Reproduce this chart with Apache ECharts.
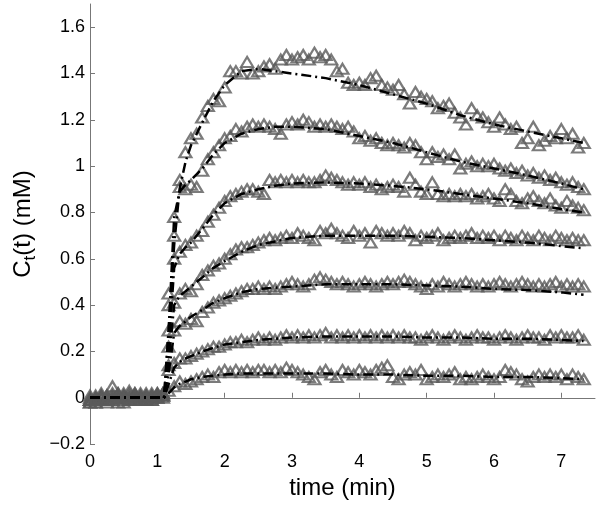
<!DOCTYPE html>
<html><head><meta charset="utf-8">
<script src="https://cdn.jsdelivr.net/npm/echarts@6/dist/echarts.min.js"></script>
<style>html,body{margin:0;padding:0;background:#fff}#c{width:600px;height:505px}</style>
</head><body><div id="c"></div>
<script>
// sampling interval of the measured curves (minutes)
const sampleStep = 1 / 12;

// measured concentrations, bottom curve (conc1) to top curve (conc7)
const conc1 = [-0.02,-0.01,0.00,-0.01,0.05,0.00,0.01,-0.01,0.02,0.00,0.01,-0.01,0.02,0.01,
  0.03,0.05,0.07,0.06,0.07,0.08,0.09,0.10,0.09,0.11,0.12,
  0.11,0.12,0.11,0.12,0.11,0.12,0.12,0.11,0.12,0.11,0.13,0.12,
  0.11,0.10,0.09,0.08,0.11,0.12,0.10,0.09,0.12,0.11,0.10,0.12,
  0.11,0.10,0.12,0.13,0.14,0.09,0.08,0.10,0.11,0.10,0.12,0.08,
  0.09,0.10,0.09,0.10,0.11,0.08,0.09,0.08,0.09,0.10,0.09,0.08,
  0.09,0.12,0.11,0.10,0.08,0.07,0.09,0.10,0.09,0.10,0.09,0.10,
  0.08,0.10,0.09,0.08];
const conc2 = [-0.01,-0.02,0.01,0.00,-0.01,0.02,0.00,0.03,-0.01,0.01,0.02,0.00,0.01,0.02,
  0.12,0.15,0.17,0.17,0.18,0.19,0.20,0.21,0.22,0.22,0.23,
  0.24,0.24,0.25,0.24,0.25,0.26,0.25,0.26,0.25,0.26,0.27,0.26,
  0.27,0.26,0.27,0.26,0.27,0.28,0.26,0.27,0.26,0.27,0.26,0.27,
  0.26,0.27,0.26,0.27,0.26,0.27,0.26,0.27,0.26,0.26,0.25,0.26,
  0.27,0.26,0.25,0.26,0.27,0.26,0.25,0.26,0.27,0.26,0.26,0.25,
  0.26,0.27,0.26,0.25,0.26,0.27,0.26,0.26,0.25,0.27,0.26,0.27,
  0.26,0.26,0.27,0.25];
const conc3 = [-0.02,0.00,-0.01,0.01,0.00,-0.02,0.01,0.00,0.02,-0.01,0.00,0.01,0.00,0.02,
  0.14,0.29,0.33,0.32,0.34,0.33,0.37,0.39,0.41,0.42,0.43,
  0.44,0.45,0.46,0.47,0.47,0.48,0.47,0.48,0.47,0.48,0.49,0.50,
  0.49,0.48,0.49,0.51,0.52,0.51,0.50,0.49,0.50,0.49,0.48,0.49,
  0.50,0.49,0.48,0.49,0.50,0.49,0.50,0.51,0.50,0.49,0.48,0.47,
  0.49,0.48,0.50,0.49,0.48,0.49,0.50,0.49,0.48,0.49,0.48,0.49,
  0.50,0.49,0.48,0.49,0.50,0.49,0.48,0.49,0.48,0.49,0.50,0.48,
  0.49,0.48,0.49,0.48];
const conc4 = [0.00,-0.02,0.01,-0.01,0.02,0.00,-0.01,0.02,0.00,0.01,-0.01,0.01,0.00,0.01,
  0.22,0.41,0.45,0.47,0.46,0.49,0.53,0.55,0.57,0.58,0.60,
  0.62,0.64,0.65,0.65,0.66,0.67,0.68,0.69,0.68,0.69,0.70,0.69,
  0.71,0.70,0.69,0.68,0.72,0.71,0.73,0.71,0.70,0.69,0.72,0.70,
  0.71,0.67,0.72,0.71,0.70,0.71,0.70,0.72,0.71,0.68,0.70,0.69,
  0.70,0.71,0.68,0.69,0.70,0.69,0.70,0.71,0.69,0.70,0.69,0.70,
  0.68,0.70,0.69,0.68,0.70,0.69,0.68,0.70,0.69,0.68,0.70,0.69,
  0.68,0.69,0.68,0.68];
const conc5 = [-0.01,0.01,0.00,-0.02,0.01,0.00,0.02,-0.01,0.01,0.00,-0.01,0.02,0.01,0.00,
  0.29,0.60,0.63,0.66,0.67,0.70,0.72,0.76,0.79,0.82,0.85,
  0.87,0.88,0.89,0.90,0.90,0.89,0.88,0.94,0.93,0.94,0.93,0.94,
  0.93,0.94,0.93,0.93,0.94,0.96,0.95,0.94,0.93,0.92,0.93,0.92,
  0.93,0.91,0.92,0.90,0.91,0.92,0.91,0.89,0.95,0.92,0.89,0.88,
  0.93,0.88,0.87,0.88,0.87,0.88,0.87,0.88,0.86,0.87,0.88,0.86,
  0.85,0.90,0.88,0.85,0.84,0.86,0.87,0.85,0.84,0.86,0.83,0.82,
  0.85,0.83,0.82,0.81];
const conc6 = [0.01,-0.01,0.00,0.01,-0.01,0.02,0.00,0.01,0.00,-0.01,0.01,0.00,0.02,0.01,
  0.40,0.70,0.91,0.90,0.92,0.91,0.98,1.03,1.06,1.09,1.12,
  1.13,1.16,1.15,1.17,1.18,1.17,1.18,1.17,1.16,1.14,1.18,1.19,
  1.18,1.20,1.19,1.17,1.18,1.17,1.18,1.17,1.16,1.17,1.15,1.12,
  1.13,1.11,1.12,1.10,1.09,1.10,1.09,1.08,1.10,1.09,1.06,1.03,
  1.06,1.04,1.05,1.03,1.05,0.99,1.01,1.02,1.00,1.01,1.00,1.01,
  0.99,0.98,0.99,0.97,0.98,0.96,0.97,0.95,0.96,0.94,0.95,0.93,
  0.92,0.93,0.91,0.90];
const conc7 = [-0.01,0.00,0.02,-0.01,0.00,0.01,-0.02,0.00,0.01,0.02,0.00,-0.01,0.01,0.02,
  0.45,0.78,0.94,1.06,1.12,1.14,1.21,1.26,1.29,1.28,1.34,
  1.41,1.41,1.40,1.45,1.40,1.41,1.43,1.44,1.42,1.46,1.48,1.46,
  1.47,1.48,1.46,1.49,1.47,1.48,1.46,1.41,1.42,1.36,1.35,1.36,
  1.35,1.38,1.39,1.35,1.34,1.33,1.35,1.31,1.27,1.32,1.30,1.29,
  1.28,1.25,1.26,1.27,1.23,1.21,1.18,1.25,1.22,1.21,1.19,1.17,
  1.21,1.18,1.16,1.17,1.10,1.12,1.17,1.09,1.11,1.13,1.12,1.16,
  1.12,1.14,1.08,1.10];

// fitted model curves (dash-dot), read at these times
const fitTimes = [0,1.1,1.17,1.25,1.33,1.42,1.5,1.67,1.83,2.0,2.25,2.5,2.75,3.0,3.5,4.0,4.5,5.0,5.5,6.0,6.5,7.0,7.33];
const fit1 = [0,0,0.02,0.045,0.06,0.07,0.08,0.09,0.095,0.10,0.105,0.105,0.105,0.105,0.105,0.10,0.10,0.095,0.095,0.09,0.09,0.085,0.08];
const fit2 = [0,0,0.06,0.13,0.155,0.17,0.18,0.20,0.215,0.23,0.24,0.25,0.255,0.26,0.265,0.265,0.265,0.26,0.26,0.255,0.255,0.25,0.245];
const fit3 = [0,0,0.11,0.28,0.31,0.33,0.35,0.38,0.41,0.43,0.455,0.47,0.475,0.48,0.49,0.49,0.49,0.485,0.48,0.47,0.465,0.455,0.445];
const fit4 = [0,0,0.16,0.40,0.44,0.46,0.48,0.52,0.56,0.59,0.63,0.66,0.675,0.69,0.70,0.70,0.70,0.695,0.69,0.68,0.67,0.655,0.645];
const fit5 = [0,0,0.22,0.56,0.62,0.65,0.67,0.73,0.79,0.84,0.88,0.90,0.915,0.925,0.93,0.925,0.915,0.90,0.88,0.86,0.84,0.815,0.80];
const fit6 = [0,0,0.30,0.78,0.89,0.92,0.94,0.99,1.05,1.10,1.14,1.16,1.17,1.17,1.16,1.13,1.10,1.06,1.02,0.99,0.96,0.925,0.90];
const fit7 = [0,0,0.30,0.66,0.90,1.02,1.09,1.19,1.28,1.35,1.41,1.42,1.41,1.40,1.38,1.35,1.31,1.27,1.22,1.18,1.15,1.12,1.10];

const xLabel = 'time (min)';
const FONT = '"Liberation Sans", Arial, Helvetica, sans-serif';

const measured = [conc1, conc2, conc3, conc4, conc5, conc6, conc7];
const fits = [fit1, fit2, fit3, fit4, fit5, fit6, fit7];

const series = [];
measured.forEach(vals => series.push({
  type: 'scatter', symbol: 'triangle', symbolSize: [12, 10],
  data: vals.map((v, i) => [i * sampleStep, v]),
  itemStyle: { color: 'rgba(255,255,255,0)', borderColor: '#5a5a5a', borderWidth: 2.2 },
  z: 2, silent: true
}));
fits.forEach(vals => series.push({
  type: 'line', data: vals.map((v, i) => [fitTimes[i], v]),
  showSymbol: false, symbol: 'none',
  lineStyle: { color: '#000', width: 2.5, type: [10, 4, 2, 4] },
  z: 3, silent: true
}));

const axisCommon = {
  axisLine: { show: true, lineStyle: { color: '#777', width: 1 } },
  axisTick: { show: true, inside: true, length: 5, lineStyle: { color: '#777' } },
  splitLine: { show: false }
};

const chart = echarts.init(document.getElementById('c'));
chart.setOption({
  animation: false,
  backgroundColor: '#fff',
  grid: { left: 90, right: 5, top: 4, bottom: 57 },
  xAxis: Object.assign({
    type: 'value', min: 0, max: 7.5, interval: 1,
    axisLabel: { color: '#000', fontSize: 18, fontFamily: FONT, margin: 9, showMaxLabel: false },
    name: xLabel, nameLocation: 'middle', nameGap: 26,
    nameTextStyle: { fontSize: 24, color: '#000', fontFamily: FONT }
  }, axisCommon),
  yAxis: Object.assign({
    type: 'value', min: -0.2, max: 1.7, interval: 0.2,
    axisLabel: {
      color: '#000', fontSize: 18, fontFamily: FONT, margin: 5, showMaxLabel: false,
      formatter: v => (Math.round(v * 10) / 10).toString().replace('-', '\u2212')
    },
    name: '{a|C}{s|t}{a|(t) (mM)}', nameLocation: 'middle', nameGap: 50, nameRotate: 90,
    nameTextStyle: {
      fontSize: 24, color: '#000', fontFamily: FONT,
      rich: {
        a: { fontSize: 24, color: '#000', fontFamily: FONT },
        s: { fontSize: 17, color: '#000', fontFamily: FONT, padding: [14, 0, 0, 0] }
      }
    }
  }, axisCommon),
  series: series
});
</script></body></html>
